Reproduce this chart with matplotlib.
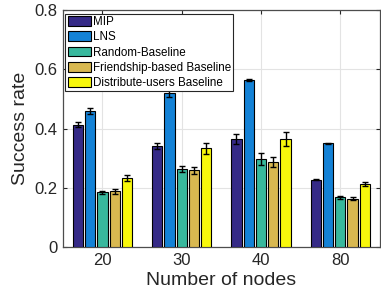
import matplotlib
matplotlib.use("Agg")
import matplotlib.pyplot as plt
import numpy as np

plt.rcParams['font.family'] = ['Liberation Sans', 'DejaVu Sans']

categories = ["20", "30", "40", "80"]
series_names = ["MIP", "LNS", "Random-Baseline", "Friendship-based Baseline", "Distribute-users Baseline"]
values = {
    "MIP": [0.413, 0.340, 0.365, 0.228],
    "LNS": [0.458, 0.520, 0.565, 0.350],
    "Random-Baseline": [0.185, 0.265, 0.297, 0.168],
    "Friendship-based Baseline": [0.188, 0.260, 0.287, 0.163],
    "Distribute-users Baseline": [0.232, 0.333, 0.365, 0.212],
}
errors = {
    "MIP": [0.008, 0.010, 0.018, 0.003],
    "LNS": [0.010, 0.012, 0.003, 0.002],
    "Random-Baseline": [0.005, 0.010, 0.020, 0.005],
    "Friendship-based Baseline": [0.008, 0.012, 0.018, 0.005],
    "Distribute-users Baseline": [0.010, 0.018, 0.025, 0.007],
}
colors = ["#352A87", "#1482D6", "#38B89D", "#D8B850", "#F8F80C"]

fig = plt.figure(figsize=(3.81, 3.07), dpi=100)
ax = fig.add_axes([0.165, 0.195, 0.832, 0.772])

x = np.arange(1, len(categories) + 1)
pitch = 0.155
width = 0.13
for i, name in enumerate(series_names):
    xs = x + (i - 2) * pitch
    ax.bar(xs, values[name], width=width, color=colors[i], edgecolor='black',
           linewidth=0.8, label=name, zorder=3)
    ax.errorbar(xs, values[name], yerr=errors[name], fmt='none', ecolor='black',
                elinewidth=1.0, capsize=2.5, capthick=1.0, zorder=4)

ax.set_xlim(0.5, 4.5)
ax.set_ylim(0, 0.8)
ax.set_xticks(x)
ax.set_xticklabels(categories)
ax.set_yticks([0, 0.2, 0.4, 0.6, 0.8])
ax.set_yticklabels(["0", "0.2", "0.4", "0.6", "0.8"])
ax.tick_params(direction='in', length=3, labelsize=12, colors='#262626',
               top=True, right=True, pad=4)
ax.grid(True, color='#e3e3e3', linewidth=0.8, zorder=0)
ax.set_axisbelow(True)
for s in ax.spines.values():
    s.set_color('#4d4d4d')
    s.set_linewidth(0.9)
ax.set_xlabel("Number of nodes", fontsize=14, color='#262626', labelpad=3)
ax.set_ylabel("Success rate", fontsize=14, color='#262626', labelpad=4)

leg = ax.legend(loc='upper left', bbox_to_anchor=(0.008, 0.985), fontsize=8.4,
                handlelength=2.0, handleheight=0.9, handletextpad=0.15,
                labelspacing=0.28, borderpad=0.2, borderaxespad=0,
                fancybox=False, framealpha=1, edgecolor='#262626')
leg.get_frame().set_linewidth(0.8)

fig.savefig("out.png", dpi=100)
